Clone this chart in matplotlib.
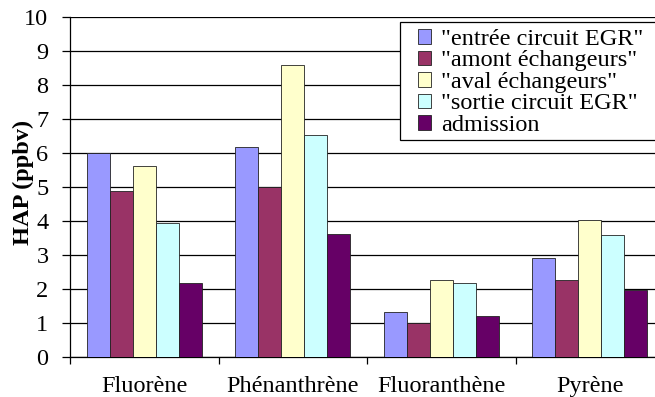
import matplotlib
matplotlib.use("Agg")
import matplotlib.pyplot as plt
from matplotlib.patches import Rectangle
import numpy as np

categories = ["Fluorène", "Phénanthrène", "Fluoranthène", "Pyrène"]
series_names = ['"entrée circuit EGR"', '"amont échangeurs"', '"aval échangeurs"',
                '"sortie circuit EGR"', 'admission']
entree = [6.02, 6.19, 1.31, 2.90]
amont = [4.90, 4.99, 1.01, 2.26]
aval = [5.63, 8.60, 2.28, 4.02]
sortie = [3.94, 6.53, 2.18, 3.58]
admission = [2.18, 3.61, 1.22, 1.98]
colors = ["#9999FF", "#993366", "#FFFFCC", "#CCFFFF", "#660066"]
yticks = list(range(0, 11))

plt.rcParams['font.family'] = ['Liberation Serif', 'DejaVu Serif']
FS = 17.5
W, H = 655, 397

fig = plt.figure(figsize=(6.55, 3.97), dpi=100)
ax = fig.add_axes([70/W, 40/H, 594/W, 339.7/H])

x = np.arange(len(categories))
w = 0.155
data = [entree, amont, aval, sortie, admission]
for i, (vals, name, c) in enumerate(zip(data, series_names, colors)):
    ax.bar(x + (i - 2) * w, vals, width=w, color=c, edgecolor="#222222",
           linewidth=0.6, label=name, zorder=3)

ax.set_xlim(-0.5, 3.5)
ax.set_ylim(0, 10)
ax.set_yticks(yticks)
ax.set_yticklabels([str(t) for t in yticks], fontsize=FS)
ax.yaxis.grid(True, color="black", linewidth=0.9, zorder=0)
ax.set_axisbelow(True)

ax.set_xticks(x)
ax.set_xticklabels(categories, fontsize=FS)
ax.tick_params(axis='x', which='major', length=0, pad=14)
ax.set_xticks(np.arange(-0.5, 3.5, 1.0), minor=True)
ax.tick_params(axis='x', which='minor', length=5, width=0.9, color='black', direction='out')
ax.tick_params(axis='y', length=5.5, width=0.9, direction='out', pad=10)

for s in ["top", "right"]:
    ax.spines[s].set_visible(False)
ax.spines["left"].set_linewidth(0.9)
ax.spines["bottom"].set_linewidth(0.9)

ax.set_ylabel("HAP (ppbv)", fontsize=FS, fontweight="bold")
ax.yaxis.set_label_coords(-0.0606, 0.514)

# legend frame (extends past right edge like the reference)
frame = Rectangle((400/W, 1 - 140/H), 270/W, 118/H, transform=fig.transFigure,
                  facecolor="white", edgecolor="black", linewidth=0.9, zorder=5)
fig.patches.append(frame)

leg = fig.legend(loc="upper left", bbox_to_anchor=(418/W, 1 - 29/H),
                 fontsize=FS, frameon=False,
                 borderpad=0.0, labelspacing=0.02, handlelength=0.55,
                 handleheight=0.55, handletextpad=0.4, borderaxespad=0)
leg.set_zorder(6)

fig.savefig("out.png", dpi=100)
